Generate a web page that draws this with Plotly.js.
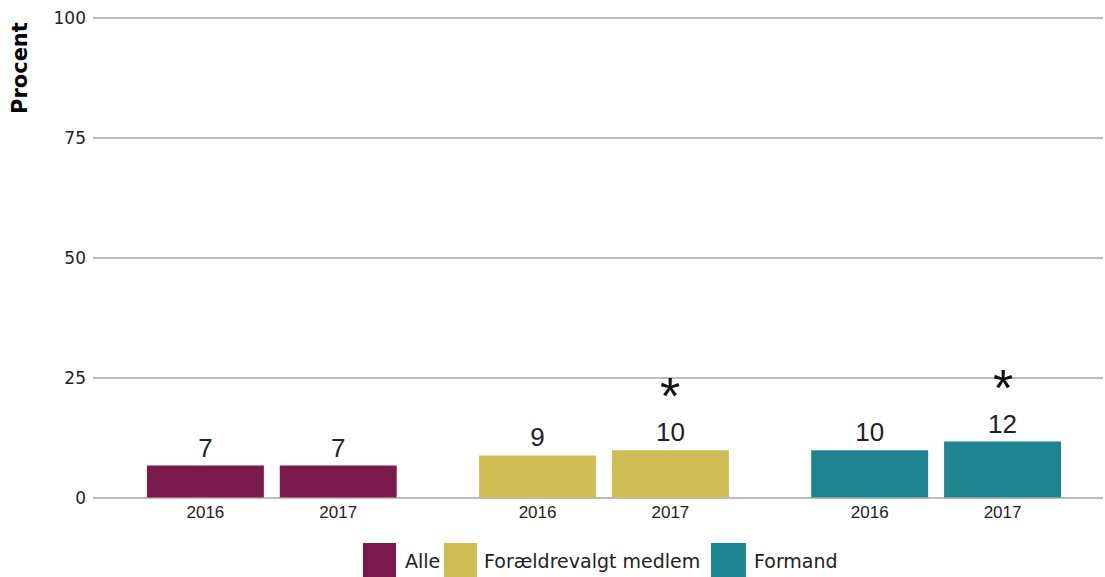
<!DOCTYPE html>
<html>
<head>
<meta charset="utf-8">
<script src="https://cdn.plot.ly/plotly-3.0.1.min.js"></script>
<style>html,body{margin:0;padding:0;background:#fff;}#chart{width:1105px;height:577px;}</style>
</head>
<body>
<div id="chart"></div>
<script>
// ---- data ----
var years = ["2016", "2017"];
var seriesNames = ["Alle", "Forældrevalgt medlem", "Formand"];
var seriesColors = ["#7a1a4c", "#cfbe53", "#1e8590"];
var alleValues = [6.7, 6.7];
var foraeldreValues = [8.8, 9.9];
var formandValues = [9.9, 11.7];
var alleLabels = ["7", "7"];
var foraeldreLabels = ["9", "10"];
var formandLabels = ["10", "12"];
var alleSignificant = [false, false];
var foraeldreSignificant = [false, true];
var formandSignificant = [false, true];
var yTickVals = [0, 25, 50, 75, 100];
var yTickText = ["0", "25", "50", "75", "100"];
var yTitle = "Procent";

var seriesValues = [alleValues, foraeldreValues, formandValues];
var seriesLabels = [alleLabels, foraeldreLabels, formandLabels];
var seriesSig = [alleSignificant, foraeldreSignificant, formandSignificant];

// ---- layout ----
var groupStep = years.length + 0.5;   // slot spacing between series groups
var traces = [];
var annotations = [];
var shapes = [];
var tickVals = [];
var tickText = [];

for (var i = 0; i < seriesNames.length; i++) {
  var xs = [];
  for (var j = 0; j < years.length; j++) {
    var pos = i * groupStep + j;
    xs.push(pos);
    tickVals.push(pos);
    tickText.push(years[j]);
    if (seriesSig[i][j]) {
      annotations.push({
        xref: "x", yref: "y", x: pos, y: seriesValues[i][j],
        text: "*", showarrow: false, yanchor: "middle", yshift: 54,
        font: {family: "Liberation Sans", size: 52, color: "#111"}
      });
    }
  }
  traces.push({
    type: "bar", name: seriesNames[i], x: xs, y: seriesValues[i], width: 0.88,
    marker: {color: seriesColors[i], line: {width: 0}},
    text: seriesLabels[i], textposition: "outside", cliponaxis: false,
    textfont: {family: "Liberation Sans", size: 26, color: "#222"},
    hovertext: years, hoverinfo: "text+y"
  });
}

var layout = {
  width: 1105, height: 577,
  margin: {l: 93, r: 2, t: 16, b: 77, pad: 0},
  paper_bgcolor: "#ffffff", plot_bgcolor: "#ffffff",
  showlegend: false,
  barmode: "overlay",
  font: {family: "DejaVu Sans", color: "#222"},
  xaxis: {range: [-0.846, 6.756], tickvals: tickVals, ticktext: tickText,
          showgrid: false, zeroline: false, showline: false, ticks: "",
          tickfont: {family: "Liberation Sans", size: 17, color: "#222"}, ticklabelstandoff: 0},
  yaxis: {range: [-0.5, 100.5], tickvals: yTickVals, ticktext: yTickText,
          showgrid: true, gridcolor: "#bcbcbc", gridwidth: 2,
          zeroline: true, zerolinecolor: "#bcbcbc", zerolinewidth: 2,
          showline: false, ticks: "", ticklabelstandoff: 6,
          tickfont: {family: "DejaVu Sans", size: 17, color: "#222"}}
};

// y-axis title, placed at the top of the axis as in the original
annotations.push({xref: "paper", yref: "paper", x: -0.0723, y: 0.9917,
  xanchor: "center", yanchor: "top", showarrow: false, textangle: -90,
  text: "<b>" + yTitle + "</b>",
  font: {family: "DejaVu Sans", size: 21, color: "#000"}});

// ---- legend (drawn below plot) ----
var legSwatch = [[0.2673, 0.3000], [0.3475, 0.3802], [0.6119, 0.6465]];
var legText = [0.3069, 0.3851, 0.6525];
for (var k = 0; k < seriesNames.length; k++) {
  shapes.push({type: "rect", xref: "paper", yref: "paper",
    x0: legSwatch[k][0], x1: legSwatch[k][1], y0: -0.166, y1: -0.0888,
    fillcolor: seriesColors[k], line: {width: 0}});
  annotations.push({xref: "paper", yref: "paper", x: legText[k], y: -0.126,
    xanchor: "left", yanchor: "middle", showarrow: false, text: seriesNames[k],
    font: {family: "DejaVu Sans", size: 19, color: "#222"}});
}
layout.annotations = annotations;
layout.shapes = shapes;

Plotly.newPlot("chart", traces, layout, {displayModeBar: false, staticPlot: true});
</script>
</body>
</html>
